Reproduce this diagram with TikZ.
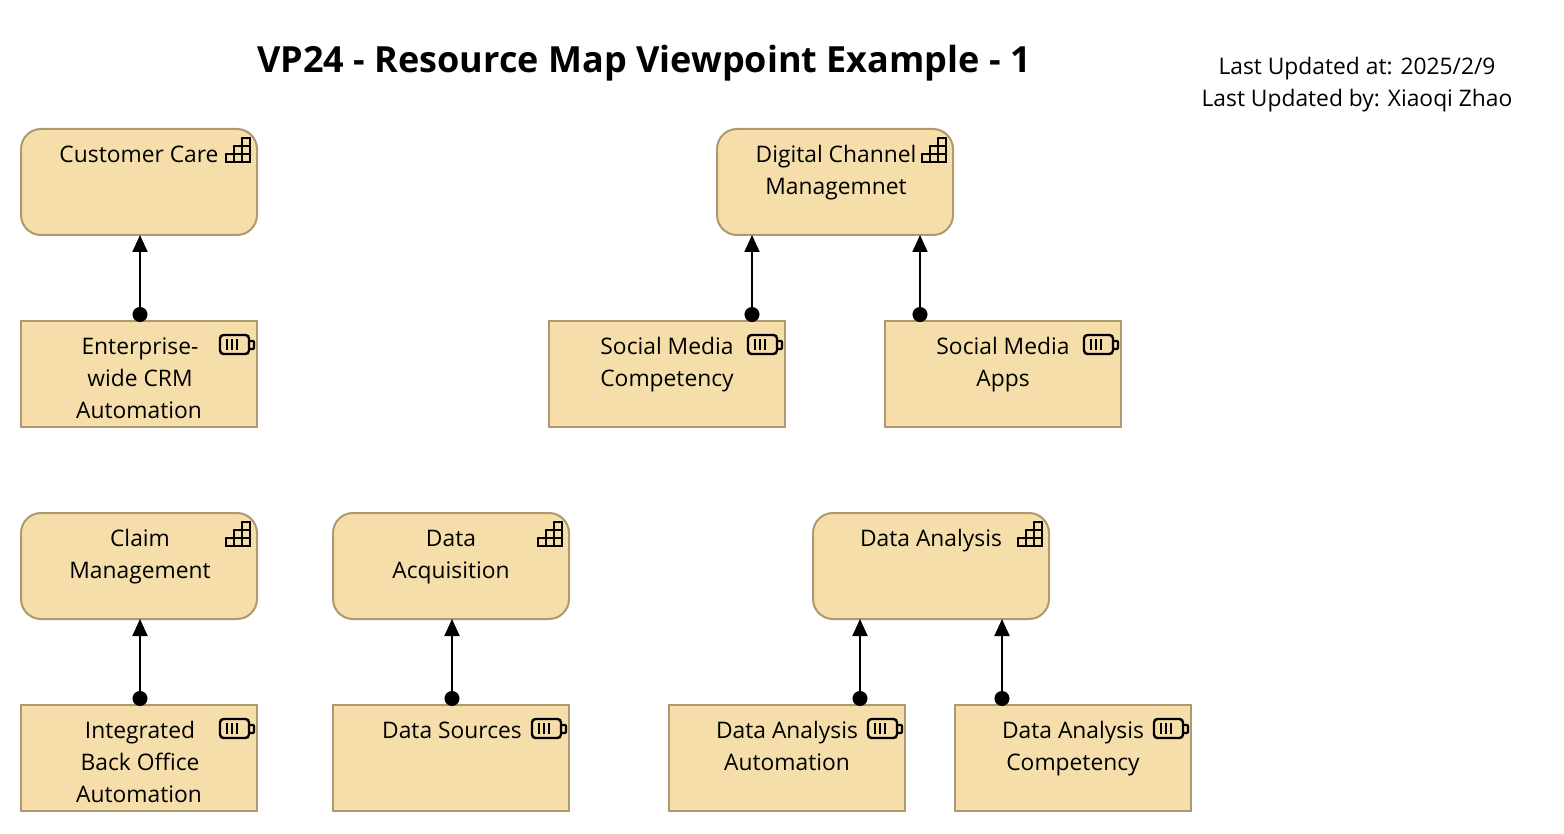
\documentclass[tikz,border=0pt]{standalone}
\usepackage{fontspec}
\setmainfont{Open Sans}
\usetikzlibrary{arrows.meta}
\definecolor{resfill}{HTML}{F5DEAA}
\definecolor{resline}{HTML}{AE9A70}
\newcommand{\boxtext}[1]{\parbox[c][106pt][t]{236pt}{\centering\vspace*{11pt}\strut#1}}
\tikzset{
  x=1pt,y=-1pt,
  every node/.style={inner sep=0pt,outer sep=0pt},
  bodyfont/.style={font=\fontsize{22.8}{32}\selectfont},
  resource/.style={draw=resline,fill=resfill,line width=2pt,bodyfont,minimum width=236pt,minimum height=106pt},
  capability/.style={resource,rounded corners=20pt},
  assign/.style={draw=black,line width=2pt,{Circle[length=15pt,width=15pt]}-{Triangle[length=17pt,width=15pt]}},
  iconline/.style={draw=black,line width=2.4pt},
  stairs/.pic={
    \draw[iconline,line join=miter] (-31,33) -- (-7,33) -- (-7,9) -- (-15,9) -- (-15,17) -- (-23,17) -- (-23,25) -- (-31,25) -- cycle;
    \draw[iconline] (-23,25) -- (-7,25) (-15,17) -- (-7,17) (-23,25) -- (-23,33) (-15,17) -- (-15,33);
  },
  battery/.pic={
    \draw[iconline,line width=2.4pt,rounded corners=3.5pt] (-37,14) rectangle (-8,33);
    \draw[iconline,line width=2.4pt,rounded corners=1pt] (-8,20) -- (-3,20) -- (-3,28) -- (-8,28);
    \draw[iconline,line width=2pt] (-30,18) -- (-30,29) (-25,18) -- (-25,29) (-20,18) -- (-20,29);
  },
}
\begin{document}
\begin{tikzpicture}
\useasboundingbox (0,0) rectangle (1564,834);
\fill[white] (0,0) rectangle (1564,834);
\node[font=\fontsize{36}{42}\bfseries\selectfont] (title) at (644,63.5) {VP24 - Resource Map Viewpoint Example - 1};
\node[bodyfont,align=center] (meta) at (1357,85) {Last Updated at: 2025/2/9\\Last Updated by: Xiaoqi Zhao};

\node[capability] (care) at (139,182) {\boxtext{Customer Care}};
\node[capability] (digital) at (835,182) {\boxtext{\hspace*{2pt}Digital Channel\\\hspace*{2pt}Managemnet}};
\node[resource] (crm) at (139,374) {\boxtext{\hspace*{2pt}Enterprise-\\\hspace*{2pt}wide CRM\\Automation}};
\node[resource] (smc) at (667,374) {\boxtext{Social Media\\Competency}};
\node[resource] (sma) at (1003,374) {\boxtext{Social Media\\Apps}};
\node[capability] (claim) at (139,566) {\boxtext{\hspace*{2pt}Claim\\\hspace*{2pt}Management}};
\node[capability] (acq) at (451,566) {\boxtext{Data\\Acquisition}};
\node[capability] (ana) at (931,566) {\boxtext{Data Analysis}};
\node[resource] (ibo) at (139,758) {\boxtext{\hspace*{2pt}Integrated\\\hspace*{2pt}Back Office\\Automation}};
\node[resource] (src) at (451,758) {\boxtext{\hspace*{2pt}Data Sources}};
\node[resource] (daa) at (787,758) {\boxtext{Data Analysis\\Automation}};
\node[resource] (dac) at (1073,758) {\boxtext{Data Analysis\\Competency}};

\foreach \n in {care,digital,claim,acq,ana} \pic at (\n.north east) {stairs};
\foreach \n in {crm,smc,sma,ibo,src,daa,dac} \pic at (\n.north east) {battery};

\draw[assign] ([shift={(1,1)}]crm.north) -- ([xshift=1pt]care.south);
\draw[assign] ([shift={(85,1)}]smc.north) -- ([xshift=-83pt]digital.south);
\draw[assign] ([shift={(-83,1)}]sma.north) -- ([xshift=85pt]digital.south);
\draw[assign] ([shift={(1,1)}]ibo.north) -- ([xshift=1pt]claim.south);
\draw[assign] ([shift={(1,1)}]src.north) -- ([xshift=1pt]acq.south);
\draw[assign] ([shift={(73,1)}]daa.north) -- ([xshift=-71pt]ana.south);
\draw[assign] ([shift={(-71,1)}]dac.north) -- ([xshift=71pt]ana.south);
\end{tikzpicture}
\end{document}
